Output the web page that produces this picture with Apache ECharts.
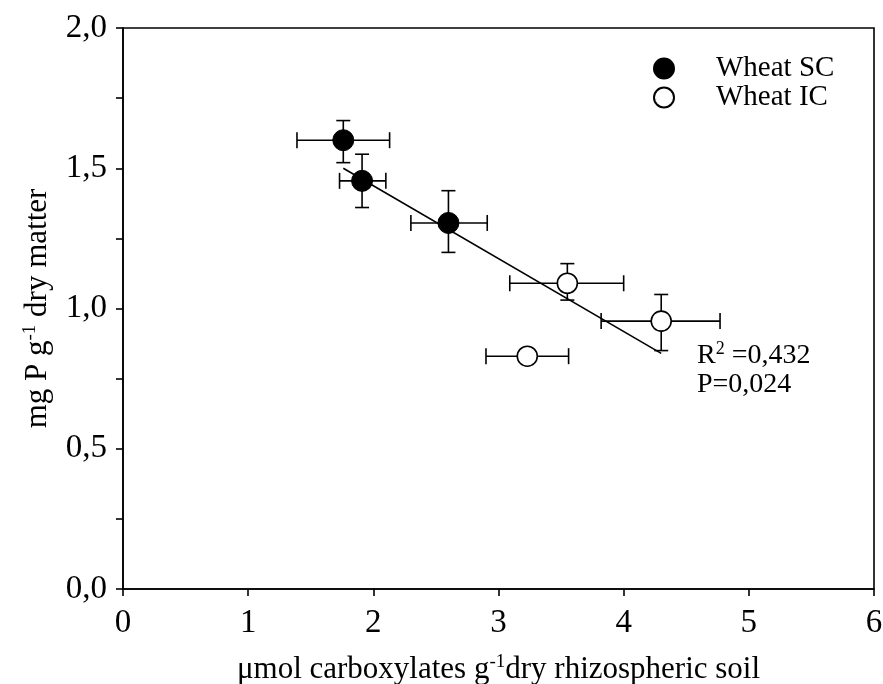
<!DOCTYPE html>
<html><head><meta charset="utf-8">
<script src="https://cdn.jsdelivr.net/npm/echarts@6/dist/echarts.min.js"></script>
<style>html,body{margin:0;padding:0;background:#fff}#c{width:883px;height:684px}</style>
</head><body><div id="c"></div>
<script>
const xTickLabels = ['0','1','2','3','4','5','6'];
const yTickLabels = ['0,0','0,5','1,0','1,5','2,0'];

// Wheat SC
const scX = [1.76, 1.91, 2.60];
const scY = [1.60, 1.455, 1.305];
const scXErr = [[1.39, 2.13], [1.73, 2.10], [2.30, 2.91]];
const scYErr = [[1.52, 1.67], [1.36, 1.55], [1.20, 1.42]];

// Wheat IC
const icX = [3.55, 4.30, 3.23];
const icY = [1.09, 0.955, 0.83];
const icXErr = [[3.09, 4.00], [3.82, 4.77], [2.90, 3.56]];
const icYErr = [[1.03, 1.16], [0.85, 1.05], [0.81, 0.85]];

// regression line endpoints
const regX = [1.76, 4.30];
const regY = [1.50, 0.84];

const FONT = "'Liberation Serif','Times New Roman',serif";

function errData(xs, ys, xe, ye) {
  return xs.map((x, i) => [x, ys[i], xe[i][0], xe[i][1], ye[i][0], ye[i][1]]);
}
function errRender(params, api) {
  const x = api.value(0), y = api.value(1);
  const c = api.coord([x, y]);
  const l = api.coord([api.value(2), y]);
  const r = api.coord([api.value(3), y]);
  const b = api.coord([x, api.value(4)]);
  const t = api.coord([x, api.value(5)]);
  const st = { stroke: '#000', lineWidth: 1.6 };
  const h = 8, w = 7;
  return {
    type: 'group',
    children: [
      { type: 'line', shape: { x1: l[0], y1: c[1], x2: r[0], y2: c[1] }, style: st },
      { type: 'line', shape: { x1: l[0], y1: c[1] - h, x2: l[0], y2: c[1] + h }, style: st },
      { type: 'line', shape: { x1: r[0], y1: c[1] - h, x2: r[0], y2: c[1] + h }, style: st },
      { type: 'line', shape: { x1: c[0], y1: b[1], x2: c[0], y2: t[1] }, style: st },
      { type: 'line', shape: { x1: c[0] - w, y1: b[1], x2: c[0] + w, y2: b[1] }, style: st },
      { type: 'line', shape: { x1: c[0] - w, y1: t[1], x2: c[0] + w, y2: t[1] }, style: st }
    ]
  };
}

const chart = echarts.init(document.getElementById('c'));
chart.setOption({
  backgroundColor: '#fff',
  animation: false,
  textStyle: { fontFamily: FONT },
  grid: { left: 123, top: 28, right: 9, bottom: 95, show: true, borderColor: '#000', borderWidth: 1.6,
    containLabel: false, outerBoundsMode: 'none' },
  legend: {
    data: ['Wheat SC', 'Wheat IC'],
    orient: 'vertical', left: 648, top: 49, itemGap: 0,
    itemWidth: 20, itemHeight: 20,
    textStyle: { fontFamily: FONT, fontSize: 29, lineHeight: 29, color: '#000', padding: [0, 0, 0, 37] }
  },
  xAxis: {
    type: 'value', min: 0, max: 6, interval: 1,
    name: 'μmol carboxylates g{sup|-1}dry rhizospheric soil',
    nameLocation: 'middle', nameGap: 64,
    nameTextStyle: { fontFamily: FONT, fontSize: 31, color: '#000',
      rich: { sup: { fontFamily: FONT, fontSize: 19, padding: [0, 0, 15, 0] } } },
    axisLine: { show: true, lineStyle: { color: '#000', width: 1.6 } },
    axisTick: { show: true, inside: false, length: 7, lineStyle: { color: '#000', width: 1.6 } },
    axisLabel: { fontFamily: FONT, fontSize: 33, color: '#000', margin: 18,
      formatter: (v) => xTickLabels[Math.round(v)] },
    splitLine: { show: false }
  },
  yAxis: {
    type: 'value', min: 0, max: 2, interval: 0.5,
    name: 'mg P g{sup|-1} dry matter',
    nameLocation: 'middle', nameGap: 68,
    nameTextStyle: { fontFamily: FONT, fontSize: 31, color: '#000',
      rich: { sup: { fontFamily: FONT, fontSize: 19, padding: [0, 0, 15, 0] } } },
    axisLine: { show: true, lineStyle: { color: '#000', width: 1.6 } },
    axisTick: { show: true, inside: false, length: 7, lineStyle: { color: '#000', width: 1.6 } },
    minorTick: { show: true, splitNumber: 2, length: 7, lineStyle: { color: '#000', width: 1.6 } },
    axisLabel: { fontFamily: FONT, fontSize: 33, color: '#000', margin: 16,
      formatter: (v) => yTickLabels[Math.round(v * 2)] },
    splitLine: { show: false }
  },
  series: [
    {
      name: 'regression', type: 'line', data: regX.map((x, i) => [x, regY[i]]),
      symbol: 'none', lineStyle: { color: '#000', width: 1.6 }, z: 1
    },
    {
      name: 'errSC', type: 'custom', renderItem: errRender,
      data: errData(scX, scY, scXErr, scYErr), z: 2
    },
    {
      name: 'errIC', type: 'custom', renderItem: errRender,
      data: errData(icX, icY, icXErr, icYErr), z: 2
    },
    {
      name: 'Wheat SC', type: 'scatter', symbol: 'circle', symbolSize: 21,
      data: scX.map((x, i) => [x, scY[i]]),
      itemStyle: { color: '#000', borderColor: '#000', borderWidth: 1, opacity: 1 }, z: 3
    },
    {
      name: 'Wheat IC', type: 'scatter', symbol: 'circle', symbolSize: 20,
      data: icX.map((x, i) => [x, icY[i]]),
      itemStyle: { color: '#fff', borderColor: '#000', borderWidth: 1.6, opacity: 1 }, z: 3
    }
  ],
  graphic: [
    { type: 'text', left: 697, top: 340, z: 10,
      style: { text: 'R{sup|2} =0,432', fontFamily: FONT, fontSize: 28, fill: '#000',
        rich: { sup: { fontFamily: FONT, fontSize: 18, padding: [0, 0, 14, 0] } } } },
    { type: 'text', left: 697, top: 371, z: 10,
      style: { text: 'P=0,024', fontFamily: FONT, fontSize: 28, fill: '#000' } }
  ]
});
</script></body></html>
